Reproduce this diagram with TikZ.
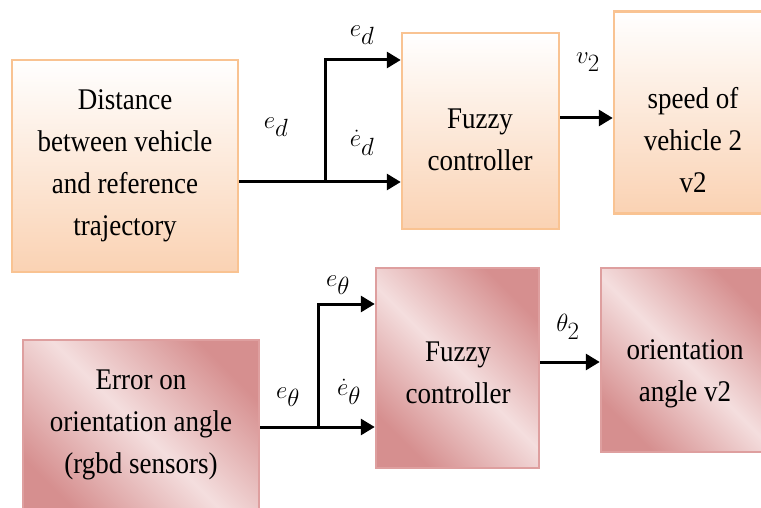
\documentclass[tikz,border=0pt]{standalone}
\usepackage{fontspec}
\setmainfont[FakeStretch=0.9]{Liberation Serif}
\usetikzlibrary{arrows.meta}
\definecolor{peach}{HTML}{FAD2B3}
\definecolor{peachb}{HTML}{F9C392}
\definecolor{rosed}{HTML}{D68F8F}
\definecolor{rosel}{HTML}{F4DEDE}
\definecolor{roseb}{HTML}{DE9F9F}
\tikzset{
  topbox/.style={draw=peachb, line width=2.5pt, top color=white, bottom color=peach, inner sep=0pt},
  botbox/.style={draw=roseb, line width=2.5pt, shading=axis, top color=rosed,
    bottom color=rosed, middle color=rosel, shading angle=-45, inner sep=0pt},
  txt/.style={align=center, font=\fontsize{30}{42}\selectfont, inner sep=0pt},
  conn/.style={line width=3pt, -{Triangle[length=14pt,width=16pt]}},
  wire/.style={line width=3pt},
  lbl/.style={font=\fontsize{34}{38}\selectfont, inner sep=0pt}
}
\begin{document}
\begin{tikzpicture}[x=1pt,y=-1pt]
\useasboundingbox (0,0) rectangle (761,508);
% top row
\node[topbox, minimum width=226pt, minimum height=212pt] (dist) at (125,166) {};
\node[txt] (distt) at (125,166) {Distance\\between vehicle\\and reference\\trajectory};
\node[topbox, minimum width=157pt, minimum height=196pt] (fz1) at (480.5,131) {};
\node[txt] (fz1t) at (480,140) {Fuzzy\\controller};
\node[topbox, minimum width=150pt, minimum height=202pt] (spd) at (689,112.5) {};
\node[txt] (spdt) at (693,140) {speed of\\vehicle 2\\v2};
% bottom row
\node[botbox, minimum width=236pt, minimum height=180pt] (err) at (141,430) {};
\node[txt] (errt) at (141,425) {Error on\\orientation angle\\(rgbd sensors)};
\node[botbox, minimum width=163pt, minimum height=200pt] (fz2) at (457.5,368) {};
\node[txt] (fz2t) at (458,373) {Fuzzy\\controller};
\node[botbox, minimum width=166pt, minimum height=184pt] (ori) at (684,360) {};
\node[txt] (orit) at (685,374) {orientation\\angle v2};
% connectors top
\coordinate (j1) at (325,182);
\coordinate (j1u) at (325,60);
\draw[wire] (dist.east |- j1) -- (j1);
\draw[conn] (j1) -- (fz1.west |- j1);
\draw[conn, line join=miter] (j1) -- (j1u) -- (fz1.west |- j1u);
\draw[conn] (fz1.east |- 0,118) -- (spd.west |- 0,118);
% connectors bottom
\coordinate (j2) at (318,427);
\coordinate (j2u) at (318,304);
\draw[wire] (err.east |- j2) -- (j2);
\draw[conn] (j2) -- (fz2.west |- j2);
\draw[conn, line join=miter] (j2) -- (j2u) -- (fz2.west |- j2u);
\draw[conn] (fz2.east |- 0,362) -- (ori.west |- 0,362);
% labels
\node[lbl] (l1) at (362,35) {$e_d$};
\node[lbl] (l2) at (276,127) {$e_d$};
\node[lbl] (l3) at (362,143) {$\dot{e}_d$};
\node[lbl] (l4) at (588,62) {$v_2$};
\node[lbl] (l5) at (338,285) {$e_\theta$};
\node[lbl] (l6) at (288,397) {$e_\theta$};
\node[lbl] (l7) at (349,392) {$\dot{e}_\theta$};
\node[lbl] (l8) at (568,327) {$\theta_2$};
\end{tikzpicture}
\end{document}
